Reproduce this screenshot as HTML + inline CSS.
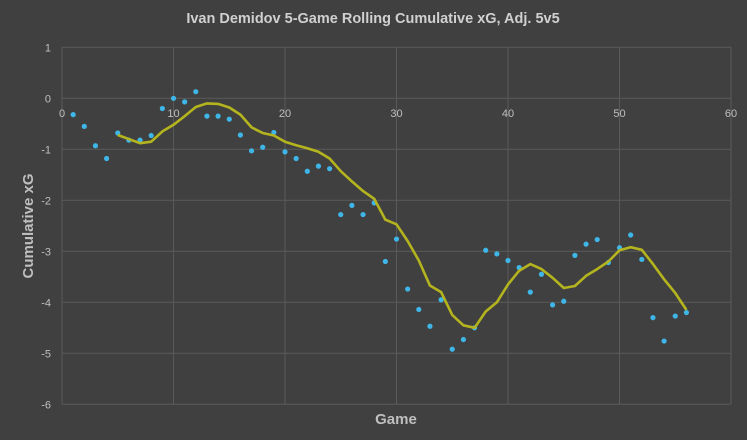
<!DOCTYPE html>
<html><head><meta charset="utf-8"><style>
html,body{margin:0;padding:0;background:#404040;}
svg{display:block;font-family:"Liberation Sans",sans-serif;}
</style></head><body>
<svg id="c" width="747" height="440" xmlns="http://www.w3.org/2000/svg">
<rect width="747" height="440" fill="#404040"/>
<text x="373" y="23" text-anchor="middle" font-size="14.5" font-weight="bold" fill="#d0d0d0">Ivan Demidov 5-Game Rolling Cumulative xG, Adj. 5v5</text>
<text x="396" y="424" text-anchor="middle" font-size="15" font-weight="bold" fill="#bfbfbf">Game</text>
<text transform="translate(33,226) rotate(-90)" text-anchor="middle" font-size="15" font-weight="bold" fill="#bfbfbf">Cumulative xG</text>
<g id="g"></g>
</svg>
<script>
var X=function(v){return 62+v*11.15},Y=function(v){return 98.3-v*51};
var s='';
for(var i=0;i<=6;i++){var x=X(i*10);s+='<line x1="'+x+'" y1="'+Y(1)+'" x2="'+x+'" y2="'+Y(-6)+'" stroke="#5a5a5a" stroke-width="1"/>';}
for(var j=1;j>=-6;j--){var y=Y(j);s+='<line x1="'+X(0)+'" y1="'+y+'" x2="'+X(60)+'" y2="'+y+'" stroke="#5a5a5a" stroke-width="1"/>';
s+='<text x="51" y="'+(y+4)+'" text-anchor="end" font-size="11" fill="#bfbfbf">'+(j<0?'-'+(-j):j)+'</text>';}
for(var i=0;i<=6;i++){s+='<text x="'+X(i*10)+'" y="117" text-anchor="middle" font-size="11" fill="#bfbfbf">'+(i*10)+'</text>';}
var p=[-0.32,-0.55,-0.93,-1.18,-0.68,-0.82,-0.82,-0.73,-0.2,0,-0.07,0.13,-0.35,-0.35,-0.41,-0.72,-1.03,-0.96,-0.67,-1.05,-1.18,-1.43,-1.33,-1.38,-2.28,-2.1,-2.28,-2.05,-3.2,-2.76,-3.74,-4.14,-4.47,-3.95,-4.92,-4.73,-4.5,-2.98,-3.05,-3.18,-3.32,-3.8,-3.45,-4.05,-3.98,-3.08,-2.86,-2.77,-3.22,-2.93,-2.68,-3.16,-4.3,-4.76,-4.27,-4.2];
var l=[-0.72,-0.8,-0.88,-0.85,-0.65,-0.52,-0.35,-0.17,-0.1,-0.11,-0.18,-0.32,-0.57,-0.68,-0.73,-0.85,-0.92,-0.98,-1.05,-1.18,-1.43,-1.63,-1.82,-1.97,-2.38,-2.47,-2.8,-3.18,-3.67,-3.8,-4.25,-4.45,-4.5,-4.18,-4.0,-3.65,-3.38,-3.25,-3.35,-3.52,-3.72,-3.68,-3.48,-3.35,-3.2,-2.98,-2.92,-2.97,-3.25,-3.55,-3.82,-4.15];
var pts=l.map(function(v,k){return X(k+5).toFixed(1)+','+Y(v).toFixed(1)}).join(' ');
p.forEach(function(v,k){s+='<circle cx="'+X(k+1)+'" cy="'+Y(v)+'" r="2.6" fill="#3fb6e8"/>';});
s+='<polyline points="'+pts+'" fill="none" stroke="#b4b41e" stroke-width="2.6" stroke-linejoin="round"/>';
document.getElementById('g').innerHTML=s;
</script>
</body></html>
